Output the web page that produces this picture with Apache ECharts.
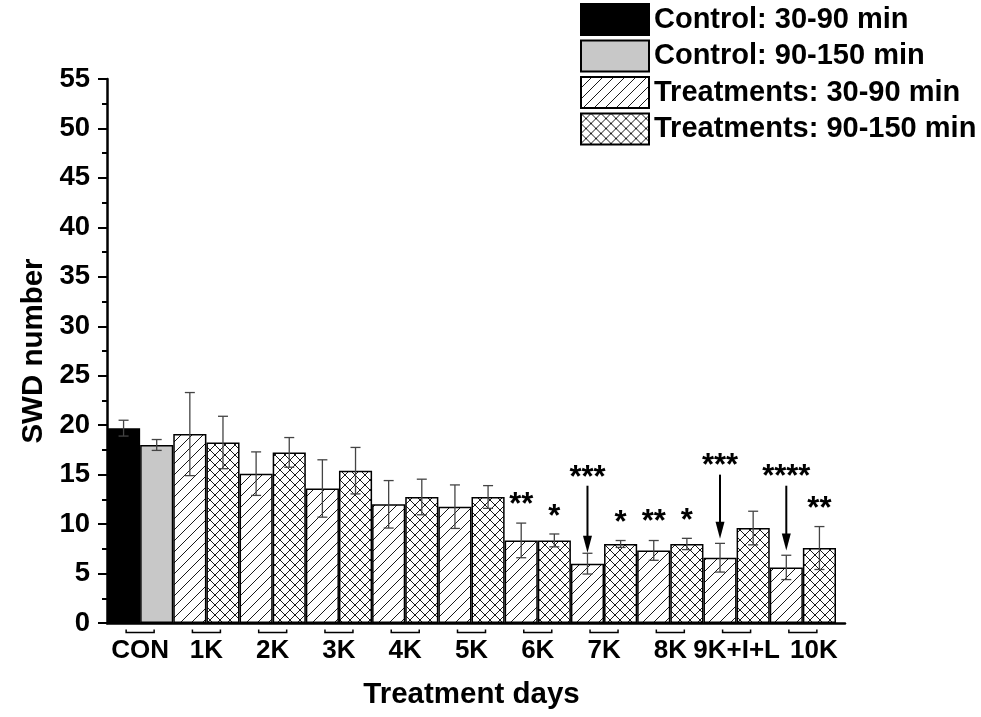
<!DOCTYPE html>
<html>
<head>
<meta charset="utf-8">
<script src="https://cdn.jsdelivr.net/npm/echarts@6/dist/echarts.min.js"></script>
<style>
html,body{margin:0;padding:0;background:#fff;}
#chart{width:981px;height:717px;}
</style>
</head>
<body>
<div id="chart"></div>
<script>
// ---- data ----
const categories = ['CON', '1K', '2K', '3K', '4K', '5K', '6K', '7K', '8K', '9K+I+L', '10K'];
const seriesNames = ['Control: 30-90 min', 'Control: 90-150 min', 'Treatments: 30-90 min', 'Treatments: 90-150 min'];
// 30-90 min (left bar of each pair)
const earlyMeans = [19.7, 19.1, 15.1, 13.6, 12.0, 11.76, 8.35, 6.0, 7.34, 6.6, 5.62];
const earlyErr   = [0.8, 4.2, 2.2, 2.9, 2.4, 2.2, 1.75, 1.05, 1.0, 1.45, 1.23];
// 90-150 min (right bar of each pair)
const lateMeans  = [18.0, 18.25, 17.25, 15.4, 12.74, 12.74, 8.35, 7.99, 7.99, 9.6, 7.58];
const lateErr    = [0.55, 2.65, 1.5, 2.35, 1.8, 1.15, 0.65, 0.35, 0.57, 1.7, 2.17];
// significance annotations
const annotCat   = [6, 6, 7, 7, 8, 8, 9, 10, 10];
const annotSide  = [0, 1, 0, 1, 0, 1, 0, 0, 1];
const annotText  = ['**', '*', '***', '*', '**', '*', '***', '****', '**'];
const annotY     = [12.57, 11.39, 15.33, 10.75, 10.85, 10.95, 16.51, 15.43, 12.16];
const arrowFrom  = [0, 0, 13.88, 0, 0, 0, 15.0, 13.88, 0];
const arrowTo    = [0, 0, 7.11, 0, 0, 0, 8.52, 7.34, 0];
const yTicks = { min: 0, max: 55, interval: 5 };

// ---- patterns ----
function makePattern(size, slash, back) {
  const c = document.createElement('canvas');
  c.width = size; c.height = size;
  const g = c.getContext('2d');
  g.fillStyle = '#fff';
  g.fillRect(0, 0, size, size);
  g.strokeStyle = '#1a1a1a';
  g.lineWidth = 1;
  g.beginPath();
  if (slash) {
    for (const o of [-size, 0, size]) { g.moveTo(o, size); g.lineTo(o + size, 0); }
  }
  if (back) {
    for (const o of [-size, 0, size]) { g.moveTo(o, 0); g.lineTo(o + size, size); }
  }
  g.stroke();
  return { image: c, repeat: 'repeat' };
}
const hatchFill = makePattern(11, true, false);
const crossFill = makePattern(10, true, true);

const FONT = "'Liberation Sans', Arial, sans-serif";
const n = categories.length;
const ctrlEarly = earlyMeans.map((v, i) => i === 0 ? v : '-');
const ctrlLate  = lateMeans.map((v, i) => i === 0 ? v : '-');
const trtEarly  = earlyMeans.map((v, i) => i === 0 ? '-' : v);
const trtLate   = lateMeans.map((v, i) => i === 0 ? '-' : v);

const errData = [];
for (let i = 0; i < n; i++) {
  errData.push([i, earlyMeans[i], earlyErr[i], 0]);
  errData.push([i, lateMeans[i], lateErr[i], 1]);
}
const bracketData = categories.map((c, i) => [i, 0]);
const annotData = annotCat.map((c, k) => [c, annotY[k], annotSide[k], arrowFrom[k], arrowTo[k]]);
// x labels: the last two are nudged apart as in the original figure
const labelShift = { '9K+I+L': 0, '10K': 22 };
const xData = categories.map(c => labelShift[c] ? { value: c, textStyle: { padding: [0, 0, 0, labelShift[c]] } } : c);

const barBorder = { borderColor: '#000', borderWidth: 1.5 };

const option = {
  backgroundColor: '#fff',
  animation: false,
  legend: {
    orient: 'vertical',
    left: 580, top: 3, padding: 0,
    itemWidth: 68, itemHeight: 31, itemGap: 3.5,
    selectedMode: false,
    icon: 'rect',
    data: seriesNames,
    textStyle: { fontFamily: FONT, fontWeight: 'bold', fontSize: 29, color: '#000' }
  },
  grid: [
    { left: 107, right: 145, top: 79, bottom: 94 },
    { left: 107, right: 136, top: 79, bottom: 94 }
  ],
  xAxis: [
    {
      type: 'category', gridIndex: 0, data: xData,
      axisLine: { show: false },
      axisTick: { show: false },
      axisLabel: { fontFamily: FONT, fontWeight: 'bold', fontSize: 26, color: '#000', margin: 15, interval: 0 },
      name: 'Treatment days', nameLocation: 'middle', nameGap: 57,
      nameTextStyle: { fontFamily: FONT, fontWeight: 'bold', fontSize: 29.5, color: '#000' }
    },
    {
      type: 'value', gridIndex: 1, min: 0, max: 1,
      axisLine: { show: true, onZero: false, lineStyle: { color: '#000', width: 2.5 } },
      axisTick: { show: false }, axisLabel: { show: false }, splitLine: { show: false }
    }
  ],
  yAxis: [
    {
      type: 'value', gridIndex: 0, min: yTicks.min, max: yTicks.max, interval: yTicks.interval,
      axisLine: { show: true, lineStyle: { color: '#000', width: 2.5 } },
      axisTick: { show: true, length: 9, lineStyle: { color: '#000', width: 2 } },
      minorTick: { show: true, splitNumber: 2, length: 5, lineStyle: { color: '#000', width: 2 } },
      splitLine: { show: false },
      axisLabel: { fontFamily: FONT, fontWeight: 'bold', fontSize: 27.5, color: '#000', margin: 17 },
      name: 'SWD number', nameLocation: 'middle', nameGap: 58,
      nameTextStyle: { fontFamily: FONT, fontWeight: 'bold', fontSize: 29.5, color: '#000' }
    },
    { type: 'value', gridIndex: 1, show: false, min: 0, max: 1 }
  ],
  series: [
    { name: seriesNames[0], type: 'bar', stack: 'L', data: ctrlEarly, barGap: '0%', barCategoryGap: '0%',
      itemStyle: Object.assign({ color: '#000' }, barBorder) },
    { name: seriesNames[1], type: 'bar', stack: 'R', data: ctrlLate, barGap: '0%', barCategoryGap: '0%',
      itemStyle: Object.assign({ color: '#c8c8c8' }, barBorder) },
    { name: seriesNames[2], type: 'bar', stack: 'L', data: trtEarly, barGap: '0%', barCategoryGap: '0%',
      itemStyle: Object.assign({ color: hatchFill }, barBorder) },
    { name: seriesNames[3], type: 'bar', stack: 'R', data: trtLate, barGap: '0%', barCategoryGap: '0%',
      itemStyle: Object.assign({ color: crossFill }, barBorder) },
    {
      name: 'err', type: 'custom', data: errData, z: 5, silent: true,
      encode: { x: 0, y: 1 },
      renderItem: function (params, api) {
        const i = api.value(0), v = api.value(1), e = api.value(2), s = api.value(3);
        const bw = api.size([1, 0])[0];
        const top = api.coord([i, v + e]);
        const bot = api.coord([i, v - e]);
        const x = top[0] + (s ? 1 : -1) * bw / 4;
        const cap = 5;
        const st = { stroke: '#444', lineWidth: 1.3 };
        return { type: 'group', children: [
          { type: 'line', shape: { x1: x, y1: top[1], x2: x, y2: bot[1] }, style: st },
          { type: 'line', shape: { x1: x - cap, y1: top[1], x2: x + cap, y2: top[1] }, style: st },
          { type: 'line', shape: { x1: x - cap, y1: bot[1], x2: x + cap, y2: bot[1] }, style: st }
        ] };
      }
    },
    {
      name: 'brackets', type: 'custom', data: bracketData, z: 5, silent: true, clip: false,
      encode: { x: 0, y: 1 },
      renderItem: function (params, api) {
        const p = api.coord([api.value(0), 0]);
        const x = p[0], y = p[1];
        return { type: 'polyline', shape: { points: [[x - 14, y + 6.5], [x - 14, y + 9.5], [x + 14, y + 9.5], [x + 14, y + 6.5]] },
          style: { stroke: '#000', lineWidth: 1.5, fill: null } };
      }
    },
    {
      name: 'annot', type: 'custom', data: annotData, z: 6, silent: true, clip: false,
      encode: { x: 0, y: 1 },
      renderItem: function (params, api) {
        const i = api.value(0), yv = api.value(1), s = api.value(2), af = api.value(3), at = api.value(4);
        const bw = api.size([1, 0])[0];
        const p = api.coord([i, yv]);
        const x = p[0] + (s ? 1 : -1) * bw / 4;
        const fs = 31;
        const children = [{
          type: 'text',
          style: { text: annotText[params.dataIndex], x: x, y: p[1] + 0.22 * fs, align: 'center', verticalAlign: 'middle',
            font: 'bold ' + fs + "px 'Liberation Sans', Arial, sans-serif", fill: '#000' }
        }];
        if (af > 0) {
          const y1 = api.coord([i, af])[1];
          const y2 = api.coord([i, at])[1];
          const head = 17;
          children.push({ type: 'line', shape: { x1: x, y1: y1, x2: x, y2: y2 - head + 2 }, style: { stroke: '#000', lineWidth: 2 } });
          children.push({ type: 'polygon', shape: { points: [[x - 4.5, y2 - head], [x + 4.5, y2 - head], [x, y2]] }, style: { fill: '#000' } });
        }
        return { type: 'group', children: children };
      }
    }
  ]
};

const chart = echarts.init(document.getElementById('chart'));
chart.setOption(option);
</script>
</body>
</html>
